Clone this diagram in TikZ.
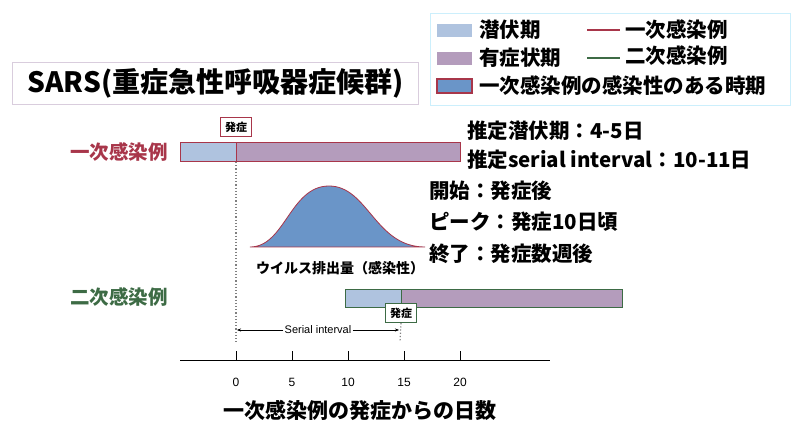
\documentclass[tikz,border=0pt]{standalone}
\usepackage{fontspec}
\setmainfont{Noto Sans CJK JP}
\newfontfamily\lat{Liberation Sans}
\usetikzlibrary{arrows.meta}
\definecolor{lb}{HTML}{AFC3DF}
\definecolor{pu}{HTML}{B49CBC}
\definecolor{rd}{HTML}{A8364A}
\definecolor{gr}{HTML}{3D6B45}
\definecolor{cb}{HTML}{6A95C8}
\tikzset{
 txt/.style={font=\bfseries\fontsize{20.5}{20.5}\selectfont, anchor=west, inner sep=0},
 lg/.style={font=\bfseries\fontsize{20.5}{20.5}\selectfont, anchor=west, inner sep=0},
 tag/.style={draw=#1, line width=1.2pt, fill=white, font=\bfseries\fontsize{11}{11}\selectfont, minimum width=31pt, minimum height=19pt, inner sep=1pt},
 tick/.style={font=\lat\fontsize{12}{12}\selectfont}
}
\begin{document}
\begin{tikzpicture}[x=1pt,y=-1pt]
\useasboundingbox (0,0) rectangle (800,438);
% legend
\node[draw=cyan!20, line width=1pt, minimum width=360pt, minimum height=92pt, anchor=north west] (leg) at (430,13) {};
\fill[lb] (437,24) rectangle (472,37);
\node[lg] (l1) at (479,30) {潜伏期};
\fill[pu] (437,52) rectangle (472,65);
\node[lg] (l2) at (479,58) {有症状期};
\draw[fill=cb, draw=rd, line width=1.2pt] (437,79) rectangle (472,93);
\node[lg] (l3) at (479,86) {一次感染例の感染性のある時期};
\draw[rd, line width=1.5pt] (587,30) -- (620,30);
\node[lg] (l4) at (625,30) {一次感染例};
\draw[gr, line width=1.5pt] (587,58) -- (620,58);
\node[lg] (l5) at (625,56) {二次感染例};
% title
\node[draw=pu!50, line width=1pt, minimum width=406pt, minimum height=42pt, anchor=north west] (tb) at (12,62) {};
\node[font=\bfseries\fontsize{28}{28}\selectfont, inner sep=0] (title) at (tb.center) {SARS(重症急性呼吸器症候群)};
% row labels
\node[txt, rd, font=\bfseries\fontsize{19.5}{19.5}\selectfont] (p) at (70,152) {一次感染例};
\node[txt, gr, font=\bfseries\fontsize{19.5}{19.5}\selectfont] (s) at (70,297) {二次感染例};
% primary bar
\fill[lb] (180,143) rectangle (236,162);
\fill[pu] (236,143) rectangle (460,162);
\draw[rd, line width=1pt] (180,143) rectangle (460,162);
\draw[rd, line width=1pt] (236,143) -- (236,162);
\node[tag=rd] (t1) at (236,127) {発症};
% secondary bar
\fill[lb] (345,289) rectangle (401,307);
\fill[pu] (401,289) rectangle (622,307);
\draw[gr, line width=1pt] (345,289) rectangle (622,307);
\draw[gr, line width=1pt] (401,289) -- (401,307);
\node[tag=gr] (t2) at (401,313) {発症};
% dotted lines
\coordinate (d1) at (236,342);
\coordinate (d2) at (400,342);
\draw[gray, dotted, line width=1.2pt] (236,162) -- (d1);
\draw[gray, dotted, line width=1.2pt] (t2.south) -- (d2);
\node[font=\lat\fontsize{11}{11}\selectfont, fill=white, inner sep=1pt] (si) at (318,330) {Serial interval};
\draw[-{Stealth[length=4pt]}, thin] (si.west) -- (237,330);
\draw[-{Stealth[length=4pt]}, thin] (si.east) -- (399,330);
% curve
\draw[rd, fill=cb, line width=0.8pt] (250,247) .. controls (285,247) and (290,186) .. (329,186) .. controls (368,186) and (375,247) .. (425,247) -- cycle;
\node[font=\bfseries\fontsize{14}{14}\selectfont, inner sep=0] (vl) at (340,268) {ウイルス排出量（感染性）};
% right texts
\node[txt] (a1) at (467,131) {推定潜伏期：4-5日};
\node[txt] (a2) at (467,160) {推定serial interval：10-11日};
\node[txt] (b1) at (429,191) {開始：発症後};
\node[txt] (b2) at (429,222) {ピーク：発症10日頃};
\node[txt] (b3) at (429,254) {終了：発症数週後};
% axis
\draw[line width=1pt] (180,360) -- (550,360);
\foreach \v in {0,5,10,15,20}{
 \draw[line width=1pt] (236+11.2*\v,360) -- (236+11.2*\v,351);
 \node[tick] at (236+11.2*\v,382) {\v};
}
\node[font=\bfseries\fontsize{21}{21}\selectfont] (xl) at (360,410) {一次感染例の発症からの日数};
\end{tikzpicture}
\end{document}
